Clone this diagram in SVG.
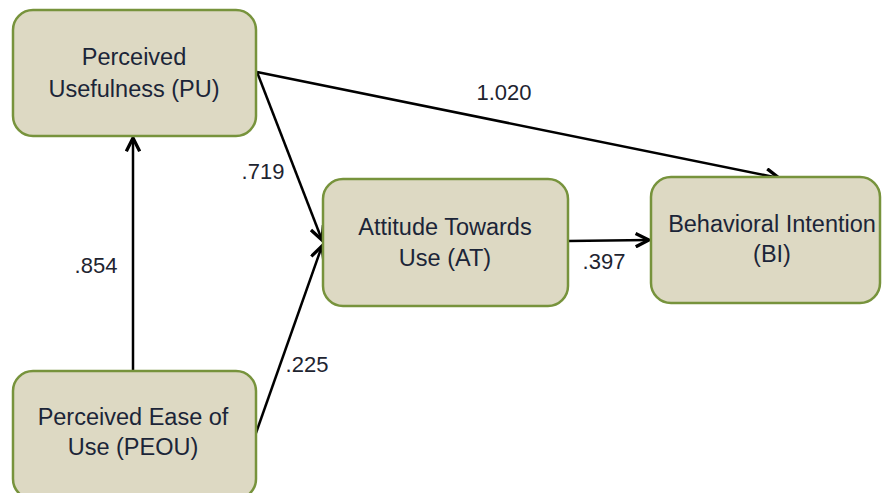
<svg xmlns="http://www.w3.org/2000/svg" width="882" height="493" viewBox="0 0 882 493">
  <style>
    .box { fill: #ddd9c3; stroke: #77933c; stroke-width: 2.5; }
    .t { font-family: "Liberation Sans", Arial, sans-serif; font-size: 23.5px; fill: #1b2538; text-anchor: middle; }
    .lbl { font-family: "Liberation Sans", Arial, sans-serif; font-size: 22px; fill: #1e2430; text-anchor: middle; }
    .edge { stroke: #000; stroke-width: 2.5; fill: none; marker-end: url(#arr); }
  </style>
  <defs>
    <marker id="arr" markerUnits="userSpaceOnUse" markerWidth="16" markerHeight="16" refX="11" refY="6" orient="auto" viewBox="0 0 12 12">
      <path d="M1,1 L11,6 L1,11" fill="none" stroke="#000" stroke-width="2.5" stroke-linejoin="miter"/>
    </marker>
  </defs>
  <rect width="882" height="493" fill="#ffffff"/>
  <g id="connectors">
    <line class="edge" x1="257" y1="72" x2="779" y2="178"/>
    <line class="edge" x1="257" y1="72" x2="322" y2="240"/>
    <line class="edge" x1="256" y1="433" x2="322" y2="246"/>
    <line class="edge" x1="133" y1="371" x2="133" y2="138"/>
    <line class="edge" x1="568" y1="241" x2="649" y2="240"/>
  </g>
  <g id="labels">
    <text class="lbl" x="504" y="100">1.020</text>
    <text class="lbl" x="263" y="179">.719</text>
    <text class="lbl" x="96" y="273">.854</text>
    <text class="lbl" x="307" y="372">.225</text>
    <text class="lbl" x="604" y="269">.397</text>
  </g>
  <g id="PU">
    <rect class="box" x="13" y="10" width="243" height="126" rx="20"/>
    <text class="t" x="134" y="65">Perceived</text>
    <text class="t" x="134" y="97">Usefulness (PU)</text>
  </g>
  <g id="AT">
    <rect class="box" x="323" y="179" width="245" height="127" rx="20"/>
    <text class="t" x="445" y="235">Attitude Towards</text>
    <text class="t" x="445" y="266">Use (AT)</text>
  </g>
  <g id="BI">
    <rect class="box" x="651" y="177" width="229" height="126" rx="20"/>
    <text class="t" x="772" y="232">Behavioral Intention</text>
    <text class="t" x="772" y="262">(BI)</text>
  </g>
  <g id="PEOU">
    <rect class="box" x="13" y="371" width="243" height="128" rx="20"/>
    <text class="t" x="133" y="425">Perceived Ease of</text>
    <text class="t" x="133" y="455">Use (PEOU)</text>
  </g>
</svg>
